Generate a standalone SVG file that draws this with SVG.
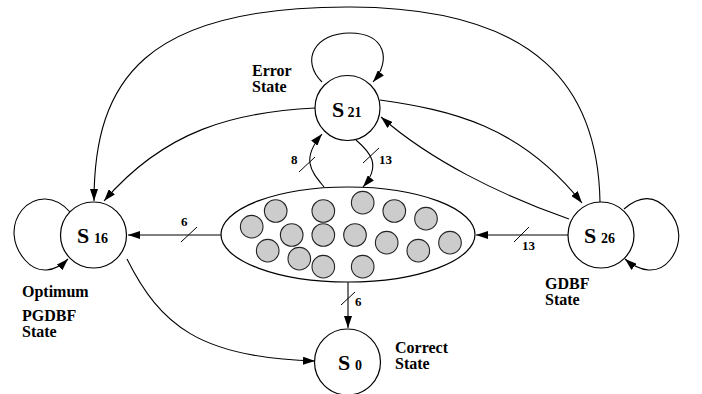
<svg xmlns="http://www.w3.org/2000/svg" width="702" height="394" viewBox="0 0 702 394">
<defs>
<style>
.st{fill:#fff;stroke:#000;stroke-width:1.2}
.dot{fill:#cccccc;stroke:#222;stroke-width:1.1}
.ed{fill:none;stroke:#000;stroke-width:1.1}
.tk{fill:none;stroke:#000;stroke-width:1}
.big{font-family:"Liberation Serif",serif;font-weight:bold;font-size:22px;fill:#000}
.sub{font-family:"Liberation Serif",serif;font-weight:bold;font-size:14px;fill:#000}
.lb{font-family:"Liberation Serif",serif;font-weight:bold;font-size:16px;fill:#000}
.el{font-family:"Liberation Serif",serif;font-weight:bold;font-size:13px;fill:#000}
</style>
<marker id="ah" viewBox="0 0 12 8" refX="12" refY="4" markerWidth="12" markerHeight="8" markerUnits="userSpaceOnUse" orient="auto">
<path d="M0,0 L12,4 L0,8 z" fill="#000"/>
</marker>
</defs>
<rect width="702" height="394" fill="#fff"/>
<g id="connectors">
<path class="ed" d="M221,235 L128,235" marker-end="url(#ah)"/>
<path class="tk" d="M181,242 L197,227"/>
<path class="ed" d="M568,235 L476,235" marker-end="url(#ah)"/>
<path class="tk" d="M514,242 L529,227"/>
<path class="ed" d="M348,282 L348,328" marker-end="url(#ah)"/>
<path class="tk" d="M341,305 L355,292"/>
<path class="ed" d="M324,187 C 312,172 300,160 322,134" marker-end="url(#ah)"/>
<path class="tk" d="M299,172 L315,157"/>
<path class="ed" d="M356,140 C 370,152 382,165 363,187" marker-end="url(#ah)"/>
<path class="tk" d="M363,163 L379,148"/>
<path class="ed" d="M315,108 C 235,112 165,130 104,201" marker-end="url(#ah)"/>
<path class="ed" d="M600,202 C 598,90 540,8 351,7 C 145,6 94,80 94,201" marker-end="url(#ah)"/>
<path class="ed" d="M380,100 C 450,110 520,125 582,203" marker-end="url(#ah)"/>
<path class="ed" d="M569,219 C 500,195 430,160 381,117" marker-end="url(#ah)"/>
<path class="ed" d="M127,259 C 160,325 200,358 315,361" marker-end="url(#ah)"/>
<path class="ed" d="M322,82 C 300,60 315,33 350,33 C 385,33 392,60 373,82" marker-end="url(#ah)"/>
<path class="ed" d="M70,212 C 55,195 35,195 22,210 C 10,225 12,245 25,260 C 38,275 55,272 68,259" marker-end="url(#ah)"/>
<path class="ed" d="M624,209 C 640,195 655,195 668,210 C 682,225 682,245 670,260 C 658,275 640,272 625,259" marker-end="url(#ah)"/>
</g>
<g id="S21">
<circle class="st" cx="347.5" cy="108" r="32.5"/>
<text class="big" x="332" y="117">S</text><text class="sub" x="347.5" y="117">21</text>
</g>
<g id="S16">
<circle class="st" cx="93.5" cy="235" r="33"/>
<text class="big" x="77" y="243">S</text><text class="sub" x="94" y="243">16</text>
</g>
<g id="S26">
<circle class="st" cx="601" cy="235" r="33"/>
<text class="big" x="584" y="243">S</text><text class="sub" x="601" y="243">26</text>
</g>
<g id="S0">
<circle class="st" cx="347.5" cy="362" r="33"/>
<text class="big" x="338" y="370">S</text><text class="sub" x="355" y="370">0</text>
</g>
<g id="cluster">
<ellipse class="st" cx="348" cy="234.5" rx="127" ry="47.5"/>
<circle class="dot" cx="251.7" cy="226.7" r="11.3"/>
<circle class="dot" cx="275.7" cy="211" r="11.3"/>
<circle class="dot" cx="323.3" cy="211" r="11.3"/>
<circle class="dot" cx="362.7" cy="202.7" r="11.3"/>
<circle class="dot" cx="394.3" cy="211" r="11.3"/>
<circle class="dot" cx="426" cy="218.7" r="11.3"/>
<circle class="dot" cx="291.7" cy="235" r="11.3"/>
<circle class="dot" cx="323.3" cy="235" r="11.3"/>
<circle class="dot" cx="355" cy="235" r="11.3"/>
<circle class="dot" cx="386.7" cy="242.7" r="11.3"/>
<circle class="dot" cx="418.3" cy="250.7" r="11.3"/>
<circle class="dot" cx="450" cy="242.7" r="11.3"/>
<circle class="dot" cx="267.7" cy="250.7" r="11.3"/>
<circle class="dot" cx="299.3" cy="258.7" r="11.3"/>
<circle class="dot" cx="323.3" cy="266.7" r="11.3"/>
<circle class="dot" cx="362.7" cy="266.7" r="11.3"/>
</g>
<g id="labels">
<text class="lb" x="252" y="76">Error</text>
<text class="lb" x="252" y="92">State</text>
<text class="lb" x="22" y="297">Optimum</text>
<text class="lb" x="22" y="321">PGDBF</text>
<text class="lb" x="22" y="337">State</text>
<text class="lb" x="545" y="289">GDBF</text>
<text class="lb" x="545" y="305">State</text>
<text class="lb" x="395" y="353">Correct</text>
<text class="lb" x="395" y="369">State</text>
<text class="el" x="181" y="226">6</text>
<text class="el" x="522" y="250">13</text>
<text class="el" x="355" y="306">6</text>
<text class="el" x="291" y="164">8</text>
<text class="el" x="379" y="164">13</text>
</g>
</svg>
